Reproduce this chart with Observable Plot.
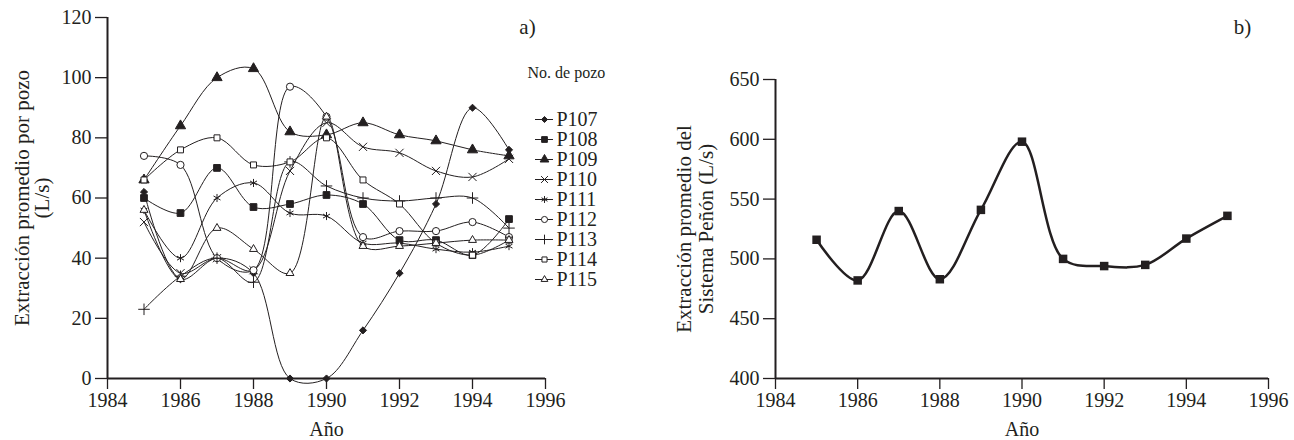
<!DOCTYPE html>
<html>
<head>
<meta charset="utf-8">
<script src="https://cdn.jsdelivr.net/npm/d3@7"></script>
<script src="https://cdn.jsdelivr.net/npm/@observablehq/plot@0.6"></script>
<style>
  body { margin: 0; background: #fff; }
  #wrap { position: relative; width: 1294px; height: 440px; overflow: hidden; }
  #wrap > svg { position: absolute; overflow: visible; }
</style>
</head>
<body>
<div id="wrap"></div>
<script>
// ---- data ----
const years = [1985, 1986, 1987, 1988, 1989, 1990, 1991, 1992, 1993, 1994, 1995];
const xTicks = [1984, 1986, 1988, 1990, 1992, 1994, 1996];
const yTicksA = [0, 20, 40, 60, 80, 100, 120];
const yTicksB = [400, 450, 500, 550, 600, 650];
const wells = ["P107", "P108", "P109", "P110", "P111", "P112", "P113", "P114", "P115"];
const P107 = [62, 33, 40, 35, 0, 0, 16, 35, 58, 90, 76];
const P108 = [60, 55, 70, 57, 58, 61, 58, 46, 46, 41, 53];
const P109 = [66, 84, 100, 103, 82, 81, 85, 81, 79, 76, 74];
const P110 = [52, 35, 40, 36, 69, 85, 77, 75, 69, 67, 73];
const P111 = [56, 40, 60, 65, 55, 54, 45, 45, 43, 42, 44];
const P112 = [74, 71, 40, 36, 97, 87, 47, 49, 49, 52, 47];
const P113 = [23, 34, 40, 32, 72, 64, 60, 59, 60, 60, 50];
const P114 = [66, 76, 80, 71, 72, 80, 66, 58, 45, 41, 46];
const P115 = [56, 33, 50, 43, 35, 87, 44, 44, 45, 46, 46];
const penon = [516, 482, 540, 483, 541, 598, 500, 494, 495, 517, 536];

const wellValues = {P107, P108, P109, P110, P111, P112, P113, P114, P115};

// ---- styles ----
const ink = "#231f20";
const font = "'Liberation Serif', 'DejaVu Serif', serif";
const markStyle = {
  P107: {symbol: "diamond2", fill: ink, r: 3.2},
  P108: {symbol: "square", fill: ink, r: 3.8},
  P109: {symbol: "triangle", fill: ink, r: 3.8},
  P110: {symbol: "times", fill: "none", r: 3.8},
  P111: {symbol: "asterisk", fill: "none", r: 3.8},
  P112: {symbol: "circle", fill: "white", r: 3.6},
  P113: {symbol: "plus", fill: "none", r: 3.8},
  P114: {symbol: "square2", fill: "white", r: 3.8},
  P115: {symbol: "triangle2", fill: "white", r: 3.8}
};

const rows = wells.flatMap(w => years.map((yr, j) => ({well: w, year: yr, value: wellValues[w][j]})));
const rowsB = years.map((yr, j) => ({year: yr, value: penon[j]}));

const wrap = document.getElementById("wrap");

// ---- chart a ----
const seriesMarks = wells.flatMap(w => {
  const d = rows.filter(r => r.well === w);
  const s = markStyle[w];
  return [
    Plot.line(d, {x: "year", y: "value", curve: "catmull-rom", stroke: ink, strokeWidth: 1}),
    Plot.dot(d, {x: "year", y: "value", symbol: s.symbol, r: s.r, fill: s.fill, stroke: ink, strokeWidth: 1})
  ];
});

const chartA = Plot.plot({
  width: 560, height: 440,
  marginLeft: 107, marginRight: 15, marginTop: 17, marginBottom: 62,
  style: {fontFamily: font, fontSize: "20px", color: ink, background: "transparent", overflow: "visible"},
  x: {domain: [1984, 1996]},
  y: {domain: [0, 120]},
  marks: [
    Plot.axisX({ticks: xTicks, tickFormat: "d", tickSize: 11, tickPadding: 3, strokeWidth: 1.3, label: null, fontSize: 20}),
    Plot.axisY({ticks: yTicksA, tickSize: 12, tickPadding: 4, strokeWidth: 1.3, label: null, fontSize: 20}),
    ...seriesMarks,
    Plot.ruleX([1984], {stroke: ink, strokeWidth: 2}),
    Plot.ruleY([0], {stroke: ink, strokeWidth: 2}),
    Plot.text(["Año"], {text: d => d, frameAnchor: "bottom", dy: 51, lineAnchor: "middle", textAnchor: "middle", fontSize: 20}),
    Plot.text(["Extracción promedio por pozo\n(L/s)"], {text: d => d, frameAnchor: "left", dx: -75, rotate: -90, textAnchor: "middle", lineAnchor: "middle", fontSize: 21, lineHeight: 0.95}),
    Plot.text(["a)"], {text: d => d, frameAnchor: "top-right", dx: -18, dy: 10, textAnchor: "middle", lineAnchor: "middle", fontSize: 21})
  ]
});
chartA.style.left = "0px"; chartA.style.top = "0px";
wrap.appendChild(chartA);

// ---- legend ----
const legend = Plot.plot({
  width: 100, height: 240, margin: 0,
  style: {fontFamily: font, fontSize: "20px", color: ink, background: "transparent", overflow: "visible"},
  x: {domain: [0, 1], range: [10, 28], axis: null},
  y: {type: "point", domain: wells, range: [56, 222], padding: 0, axis: null},
  marks: [
    Plot.ruleY(wells, {y: d => d, x1: 0, x2: 1, stroke: ink, strokeWidth: 1}),
    ...wells.map(w => Plot.dot([w], {x: 0.5, y: d => d, symbol: markStyle[w].symbol, r: markStyle[w].r * 0.85, fill: markStyle[w].fill, stroke: ink, strokeWidth: 1})),
    Plot.text(wells, {x: 1, y: d => d, text: d => d, textAnchor: "start", lineAnchor: "middle", dx: 3, fontSize: 20}),
    Plot.text(["No. de pozo"], {text: d => d, frameAnchor: "top-left", dx: 2, dy: 12, textAnchor: "start", lineAnchor: "middle", fontSize: 16})
  ]
});
legend.style.left = "525px"; legend.style.top = "60px";
wrap.appendChild(legend);

// ---- chart b ----
const chartB = Plot.plot({
  width: 674, height: 440,
  marginLeft: 155, marginRight: 26, marginTop: 79, marginBottom: 62,
  style: {fontFamily: font, fontSize: "20px", color: ink, background: "transparent", overflow: "visible"},
  x: {domain: [1984, 1996]},
  y: {domain: [400, 650]},
  marks: [
    Plot.axisX({ticks: xTicks, tickFormat: "d", tickSize: 11, tickPadding: 3, strokeWidth: 1.3, label: null, fontSize: 20}),
    Plot.axisY({ticks: yTicksB, tickSize: 12, tickPadding: 4, strokeWidth: 1.3, label: null, fontSize: 20}),
    Plot.line(rowsB, {x: "year", y: "value", curve: "catmull-rom", stroke: ink, strokeWidth: 2.5}),
    Plot.dot(rowsB, {x: "year", y: "value", symbol: "square", r: 4.8, fill: ink}),
    Plot.ruleX([1984], {stroke: ink, strokeWidth: 2}),
    Plot.ruleY([400], {stroke: ink, strokeWidth: 2}),
    Plot.text(["Año"], {text: d => d, frameAnchor: "bottom", dy: 51, lineAnchor: "middle", textAnchor: "middle", fontSize: 20}),
    Plot.text(["Extracción promedio del\nSistema Peñón (L/s)"], {text: d => d, frameAnchor: "left", dx: -81, rotate: -90, textAnchor: "middle", lineAnchor: "middle", fontSize: 21, lineHeight: 1.05}),
    Plot.text(["b)"], {text: d => d, frameAnchor: "top-right", dx: -26, dy: -52, textAnchor: "middle", lineAnchor: "middle", fontSize: 21})
  ]
});
chartB.style.left = "620px"; chartB.style.top = "0px";
wrap.appendChild(chartB);
</script>
</body>
</html>
